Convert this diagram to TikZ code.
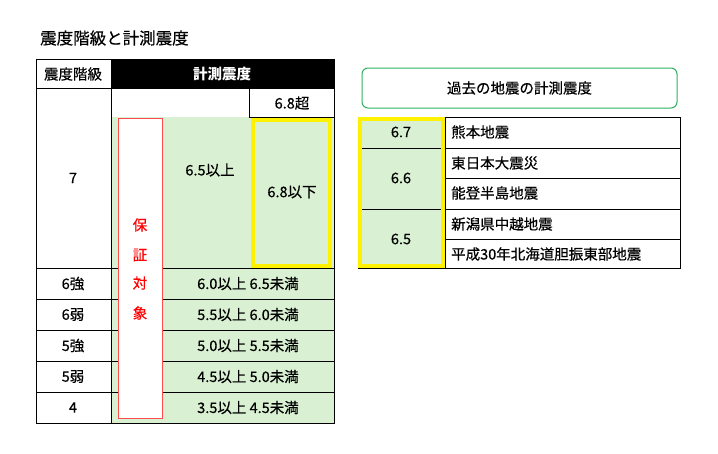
\documentclass[tikz,border=0pt]{standalone}
\usepackage{fontspec}
\setmainfont{Noto Sans CJK JP}
\newfontfamily\medfont[FakeBold=0.5]{Noto Sans CJK JP}
\usetikzlibrary{positioning}
\definecolor{cellgreen}{HTML}{D9F0D3}
\definecolor{framegreen}{HTML}{2EB060}
\tikzset{
  cell/.style = {draw, thin, minimum height=30, inner sep=0, anchor=north west},
  txt/.style = {font=\medfont\fontsize{14.5}{16}\selectfont, inner sep=0},
}
\begin{document}
\begin{tikzpicture}[x=1pt, y=-1pt]
  \useasboundingbox (0,0) rectangle (718,453);
  \node (title) [txt, anchor=west, font=\medfont\fontsize{16.5}{18}\selectfont] at (40,38) {震度階級と計測震度};
  % left table
  \fill [cellgreen] (111,117) rectangle (334,423);
  \fill [black] (111,59) rectangle (334,88);
  \node (head1) [txt] at (73,74) {震度階級};
  \node (head2) [txt, white, font=\bfseries\fontsize{14.5}{16}\selectfont] at (222,74) {計測震度};
  \draw (36,88) -- (334,88);
  \draw (111,59) -- (111,423);
  \draw (249,88) -- (249,117) -- (334,117);
  \node (over) [txt] at (292,103) {6.8超};
  \node (lv7) [txt] at (73,178) {7};
  \node (mid) [txt] at (210,170) {6.5以上};
  \draw [yellow, line width=4] (253,120) rectangle (330,266);
  \node (upper) [txt] at (292,192) {6.8以下};
  \foreach \y/\lv/\rng in {268/6強/6.0以上 6.5未満, 299/6弱/5.5以上 6.0未満,
    330/5強/5.0以上 5.5未満, 361/5弱/4.5以上 5.0未満, 392/4/3.5以上 4.5未満}{
    \draw (36,\y) -- (334,\y);
    \node (lv\y) [txt] at (73,\y+15.5) {\lv};
    \node (rng\y) [txt] at (248,\y+15.5) {\rng};
  }
  \draw [thick] (36,59) rectangle (334,423);
  \draw [red!70, fill=white] (118,118) rectangle (162,418);
  \foreach \c/\y in {保/225, 証/255, 対/283, 象/313}
    \node (g\y) [txt, red] at (140,\y) {\c};
  % right table
  \node (past) [draw=framegreen, line width=1, rounded corners=6, minimum width=315, minimum height=40,
    txt] at (519.5,88) {過去の地震の計測震度};
  \fill [cellgreen] (358,117) rectangle (445,268);
  \foreach \y/\q in {117/熊本地震, 148/東日本大震災, 178/能登半島地震, 209/新潟県中越地震, 239/平成30年北海道胆振東部地震}{
    \draw (445,\y) -- (680,\y);
    \node (q\y) [txt, anchor=west] at (451,\y+15) {\q};
  }
  \draw (358,148) -- (445,148);
  \draw (358,209) -- (445,209);
  \draw (445,117) -- (445,268);
  \node (m67) [txt] at (401,132) {6.7};
  \node (m66) [txt] at (401,178) {6.6};
  \node (m65) [txt] at (401,239) {6.5};
  \draw [thick] (358,117) rectangle (680,268);
  \draw [yellow, line width=4] (360,119) rectangle (443,266);
\end{tikzpicture}
\end{document}
